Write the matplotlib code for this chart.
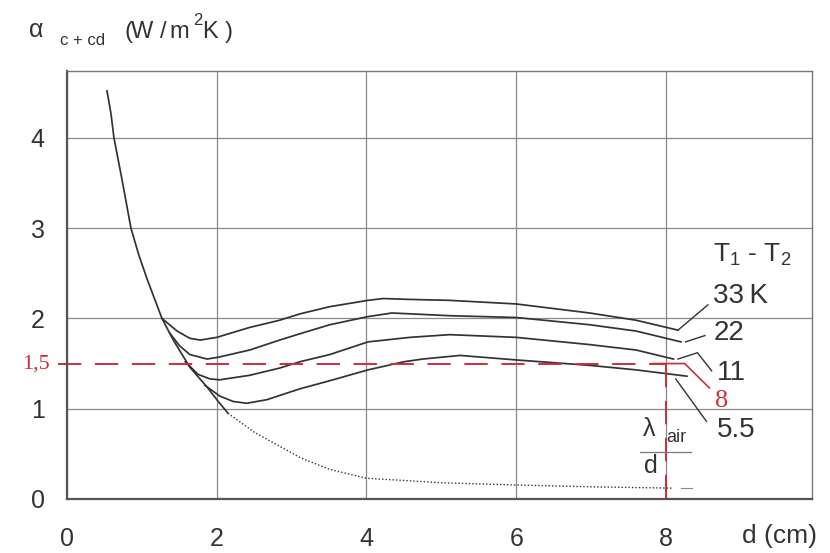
import numpy as np
import matplotlib.pyplot as plt

plt.rcParams['font.family'] = ['Liberation Sans', 'DejaVu Sans']
plt.rcParams['mathtext.default'] = 'regular'

#####################
# Curves
#####################
# shared steep branch (all curves start here, ends where lambda/d begins)
steep_x = [0.534, 0.587, 0.627, 0.734, 0.854, 0.96, 1.068, 1.268, 1.42, 1.64, 1.87, 2.02, 2.15]
steep_y = [4.52, 4.27, 4.0, 3.54, 3.0, 2.7, 2.44, 2.0, 1.76, 1.46, 1.24, 1.08, 0.95]

# T1 - T2 = 33 K
k33_x = [1.268, 1.47, 1.64, 1.78, 2.0, 2.44, 2.84, 3.11, 3.51, 4.02, 4.22, 4.6, 5.11, 6.0, 6.98, 7.6, 8.16]
k33_y = [2.0, 1.86, 1.78, 1.76, 1.79, 1.9, 1.98, 2.05, 2.13, 2.2, 2.22, 2.21, 2.2, 2.16, 2.06, 1.98, 1.87]

# 22 K
k22_x = [1.37, 1.5, 1.64, 1.87, 2.02, 2.44, 2.84, 3.11, 3.51, 4.02, 4.34, 5.11, 6.0, 6.98, 7.6, 8.2]
k22_y = [1.84, 1.7, 1.6, 1.55, 1.57, 1.65, 1.76, 1.83, 1.93, 2.02, 2.06, 2.03, 2.01, 1.93, 1.86, 1.74]

# 11 K
k11_x = [1.58, 1.75, 1.91, 2.04, 2.44, 2.84, 3.11, 3.51, 4.02, 4.58, 5.11, 6.0, 6.98, 7.6, 8.1]
k11_y = [1.52, 1.38, 1.33, 1.32, 1.37, 1.45, 1.52, 1.6, 1.74, 1.79, 1.82, 1.79, 1.71, 1.65, 1.55]

# 5.5 K
k55_x = [1.84, 2.04, 2.22, 2.4, 2.67, 3.11, 3.51, 4.02, 4.5, 4.75, 5.25, 6.0, 6.98, 7.6, 8.28]
k55_y = [1.26, 1.14, 1.08, 1.06, 1.1, 1.22, 1.31, 1.43, 1.52, 1.55, 1.59, 1.54, 1.48, 1.43, 1.36]

# pure conduction lambda_air / d (dotted)
cond_x = [2.15, 2.5, 3.11, 3.5, 4.0, 5.0, 6.0, 7.0, 8.1]
cond_y = [0.95, 0.74, 0.46, 0.33, 0.23, 0.18, 0.155, 0.135, 0.12]

# 8 K is the red level line
k8_level = 1.5
d_mark = 8

ink = '#333333'
red = '#c9303c'

fig = plt.figure(figsize=(8.3, 5.53), dpi=100)
ax = fig.add_axes([67/830, 54/553, 745/830, 428/553])

for xs, ys in [(steep_x, steep_y), (k33_x, k33_y), (k22_x, k22_y),
               (k11_x, k11_y), (k55_x, k55_y)]:
    ax.plot(xs, ys, color=ink, lw=1.25, solid_joinstyle='round')
ax.plot(cond_x, cond_y, color=ink, lw=1.0, ls=(0, (1, 1.5)))
ax.plot([8.2, 8.35], [0.12, 0.12], color='#888888', lw=0.8)

# red level line and marker at d = 8
ax.plot([-0.12, d_mark], [k8_level, k8_level], color=red, lw=1.4,
        dashes=(12, 7), clip_on=False)
ax.plot([d_mark, d_mark], [k8_level, -0.09], color=red, lw=1.4,
        dashes=(12, 7), clip_on=False)
ax.plot([7.82, 8.25, 8.58], [k8_level, k8_level, 1.23], color=red, lw=1.2)

# leaders
ax.plot([8.16, 8.56], [1.87, 2.15], color=ink, lw=1.0)
ax.plot([8.26, 8.52], [1.74, 1.81], color=ink, lw=1.0)
ax.plot([8.16, 8.42, 8.61], [1.55, 1.62, 1.42], color=ink, lw=1.0)
ax.plot([8.13, 8.54], [1.33, 0.86], color=ink, lw=1.0)

lfs = 20
ax.text(8.63, 2.25, '33\u2009K', fontsize=lfs, color=ink, va='center')
ax.text(8.63, 1.84, '22', fontsize=lfs, color=ink, va='center')
ax.text(8.68, 1.40, '11', fontsize=lfs, color=ink, va='center')
ax.text(8.65, 1.09, '8', fontsize=19, color=red, va='center', family='Liberation Serif')
ax.text(8.68, 0.76, '5.5', fontsize=lfs, color=ink, va='center')
ax.text(8.63, 2.7, 'T$_1$ - T$_2$', fontsize=19, color=ink, va='center')

# lambda_air / d
ax.text(7.78, 0.78, '\u03bb', fontsize=18, color=ink, ha='center', va='center')
ax.text(8.14, 0.68, 'air', fontsize=13, color=ink, ha='center', va='center')
ax.plot([7.65, 8.34], [0.52, 0.52], color='#777777', lw=0.9)
ax.text(7.8, 0.36, 'd', fontsize=18, color=ink, ha='center', va='center')

ax.text(-0.23, k8_level, '1,5', fontsize=16, color=red, ha='right', va='center',
        family='Liberation Serif')

ax.set_xlim(0, 9.95)
ax.set_ylim(0, 4.74)
ax.set_xticks([0, 2, 4, 6, 8])
ax.set_yticks([0, 1, 2, 3, 4])
ax.tick_params(length=0, labelsize=18, labelcolor=ink)
ax.tick_params(axis='x', pad=20)
ax.tick_params(axis='y', pad=16)
ax.grid(True, color='#8a8a8a', lw=0.9)
for side in ['left', 'bottom']:
    ax.spines[side].set_color('#555555')
    ax.spines[side].set_linewidth(1.6)
for side in ['top', 'right']:
    ax.spines[side].set_color('#777777')
    ax.spines[side].set_linewidth(1.0)

fig.text(742/830, 1 - 536/553, 'd (cm)', fontsize=19, color=ink, va='center')

# y axis title, letters placed one by one (the scan is wide-set)
fig.text(29/830, 1 - 37/553, '\u03b1', fontsize=18, color=ink, va='baseline')
fig.text(60/830, 1 - 45/553, 'c + cd', fontsize=12, color=ink, va='baseline')
for s, px, py, fsz in [('(', 124, 38, 17), ('W', 131, 38, 17), ('/', 160, 38, 17),
                       ('m', 169, 38, 17), ('2', 193, 25, 12), ('K', 202, 38, 17),
                       (')', 225, 38, 17)]:
    fig.text(px/830, 1 - py/553, s, fontsize=fsz, color=ink, va='baseline')

fig.savefig('out.png', dpi=100)
